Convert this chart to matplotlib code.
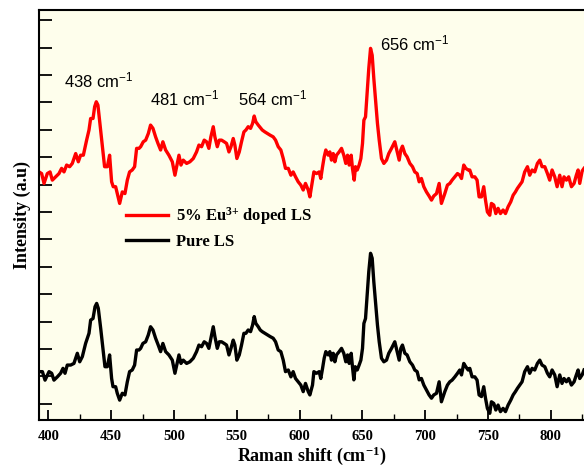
import numpy as np
import matplotlib
matplotlib.use("Agg")
from matplotlib import pyplot as plt
from matplotlib.ticker import MultipleLocator

# Raman shift (cm^-1) and intensity (a.u.)
pure_x = [392.6, 395.3, 397.4, 400.6, 402.7, 404.5, 407.2, 409.8, 411.7, 413.3,
          415.1, 417.8, 420.4, 423.1, 425.0, 427.1, 429.7, 432.4, 433.7, 435.6,
          437.2, 438.5, 439.8, 441.7, 443.5, 445.1, 447.0, 448.8, 450.4, 451.5,
          453.6, 454.9, 456.8, 458.9, 461.0, 462.9, 464.7, 466.8, 468.7, 470.3,
          472.2, 473.5, 475.3, 477.5, 479.6, 481.4, 483.3, 485.4, 487.5, 489.4,
          491.2, 493.4, 496.0, 498.7, 500.8, 504.0, 505.6, 507.4, 510.1, 512.7,
          515.4, 518.0, 519.9, 522.0, 524.1, 526.0, 527.8, 529.4, 531.3, 532.6,
          534.5, 536.1, 537.9, 540.0, 541.9, 543.8, 545.4, 547.2, 548.5, 550.1,
          552.0, 553.8, 555.7, 557.3, 559.1, 561.0, 562.6, 563.9, 565.2, 567.1,
          568.7, 570.3, 572.4, 574.5, 576.6, 579.0, 580.9, 583.0, 585.1, 587.0,
          588.8, 591.0, 593.1, 594.9, 596.8, 598.9, 601.0, 602.9, 604.7, 606.9,
          608.2, 610.3, 611.4, 613.5, 615.6, 616.9, 618.3, 619.6, 620.9, 622.8,
          624.1, 625.4, 626.8, 628.1, 629.4, 631.5, 633.4, 635.2, 636.8, 638.2,
          639.5, 641.1, 642.1, 643.2, 644.3, 645.9, 647.4, 648.8, 650.1, 651.2,
          652.5, 653.8, 655.1, 656.5, 657.8, 659.1, 660.4, 662.0, 663.4, 665.2,
          667.1, 669.2, 671.0, 673.2, 675.8, 677.7, 679.3, 680.6, 681.9, 683.8,
          685.6, 687.8, 689.9, 691.7, 693.6, 695.2, 697.0, 698.9, 701.0, 703.1,
          705.0, 706.8, 709.0, 711.1, 712.9, 715.6, 717.7, 719.6, 721.4, 723.6,
          725.7, 727.5, 728.9, 730.7, 732.3, 734.2, 735.5, 737.3, 739.5, 741.3,
          742.9, 744.8, 746.6, 748.0, 749.5, 751.4, 752.7, 754.6, 756.2, 758.0,
          759.9, 762.0, 763.9, 766.0, 768.1, 770.0, 771.8, 773.4, 775.3, 777.1,
          779.2, 781.4, 783.2, 785.1, 787.2, 789.3, 791.2, 793.0, 795.2, 797.3,
          799.1, 801.0, 803.1, 805.0, 807.1, 808.9, 810.5, 812.4, 814.2, 816.4,
          818.5, 820.3, 821.7, 823.0, 824.9, 826.4]
pure_y = [1.17, 1.17, 0.86, 1.17, 1.11, 0.86, 0.98, 1.11, 1.29, 1.11,
          1.41, 1.41, 1.47, 1.84, 1.53, 1.72, 2.20, 2.57, 3.05, 3.11,
          3.54, 3.66, 3.48, 2.75, 2.02, 1.35, 1.35, 1.78, 0.92, 0.62,
          0.62, 0.38, 0.13, 0.38, 0.32, 0.80, 1.17, 1.23, 1.41, 1.96,
          1.96, 2.02, 2.20, 2.26, 2.51, 2.81, 2.69, 2.39, 2.14, 1.90,
          2.20, 1.90, 1.78, 1.59, 1.11, 1.78, 1.47, 1.59, 1.47, 1.53,
          1.66, 1.90, 2.14, 2.08, 2.26, 2.20, 2.02, 2.39, 2.81, 2.45,
          2.02, 2.26, 2.26, 2.20, 2.14, 1.78, 2.02, 2.32, 2.14, 1.59,
          1.78, 2.14, 2.57, 2.57, 2.69, 2.63, 2.87, 3.18, 2.93, 2.81,
          2.69, 2.63, 2.57, 2.51, 2.45, 2.39, 2.26, 1.96, 1.90, 1.59,
          1.17, 1.23, 0.98, 1.17, 0.92, 0.80, 0.68, 0.44, 0.74, 0.44,
          0.32, 0.68, 1.17, 1.11, 1.17, 0.92, 1.29, 1.66, 1.90, 1.78,
          1.90, 1.59, 1.84, 1.53, 1.78, 1.90, 2.02, 1.84, 1.53, 1.78,
          1.47, 1.84, 1.35, 0.87, 1.35, 1.23, 1.41, 1.59, 2.02, 2.93,
          3.11, 3.97, 4.82, 5.49, 5.31, 4.45, 3.72, 2.87, 2.26, 1.66,
          1.53, 1.59, 1.84, 2.02, 2.26, 1.90, 1.59, 2.02, 2.14, 1.84,
          1.78, 1.53, 1.41, 1.23, 1.17, 0.87, 0.92, 0.68, 0.50, 0.32,
          0.20, 0.32, 0.38, 0.80, 0.07, 0.44, 0.68, 0.80, 0.86, 0.98,
          1.11, 1.23, 1.05, 1.47, 1.35, 1.23, 1.29, 0.98, 0.98, 0.86,
          0.32, 0.26, 0.62, 0.20, -0.17, -0.35, 0.07, 0.01, -0.23, -0.05,
          -0.29, -0.17, -0.29, -0.05, 0.13, 0.32, 0.44, 0.56, 0.68, 0.80,
          1.17, 1.35, 1.11, 1.29, 1.23, 1.47, 1.59, 1.41, 1.35, 1.11,
          0.98, 1.23, 1.05, 0.62, 1.05, 0.74, 0.92, 0.80, 0.92, 0.68,
          0.80, 1.05, 1.23, 0.92, 1.05, 1.23]

eu_x = [392.6, 394.7, 396.6, 399.2, 401.4, 403.2, 405.9, 408.5, 410.6, 412.5,
        414.6, 417.0, 419.1, 421.8, 423.9, 425.7, 427.9, 430.5, 432.4, 433.7,
        435.6, 436.9, 438.2, 439.5, 441.1, 443.0, 444.8, 447.0, 448.8, 450.4,
        451.7, 453.6, 454.9, 456.8, 458.9, 461.0, 462.9, 464.7, 466.8, 468.7,
        470.3, 472.2, 473.5, 475.6, 477.5, 479.6, 481.4, 483.3, 485.4, 487.3,
        489.4, 491.2, 493.4, 496.0, 498.7, 500.8, 504.0, 505.6, 507.4, 510.1,
        512.7, 515.4, 518.0, 519.9, 522.0, 524.1, 526.0, 527.8, 529.4, 531.3,
        532.6, 534.5, 536.1, 537.9, 540.0, 541.9, 543.8, 545.4, 547.2, 548.5,
        550.1, 552.0, 553.8, 555.7, 557.3, 559.1, 561.0, 562.6, 563.9, 565.2,
        567.1, 568.7, 570.3, 572.4, 574.5, 576.6, 579.0, 580.9, 583.0, 585.1,
        587.0, 588.8, 591.0, 593.1, 594.9, 596.8, 598.9, 601.0, 602.9, 604.7,
        606.9, 608.2, 610.3, 611.4, 613.5, 615.6, 616.9, 618.3, 619.6, 620.9,
        622.8, 624.1, 625.4, 626.8, 628.1, 629.4, 631.5, 633.4, 635.2, 636.8,
        638.2, 639.5, 641.1, 642.1, 643.5, 644.5, 645.9, 647.4, 648.8, 650.1,
        651.2, 652.5, 653.8, 655.1, 656.5, 657.8, 659.1, 660.4, 662.0, 663.4,
        665.2, 667.1, 669.2, 671.0, 673.2, 675.8, 677.7, 679.3, 680.6, 681.9,
        683.8, 685.6, 687.8, 689.9, 691.7, 693.6, 695.2, 697.0, 698.9, 701.0,
        703.1, 705.0, 706.8, 709.0, 711.1, 712.9, 715.6, 717.7, 719.6, 721.4,
        723.6, 725.7, 727.5, 728.9, 730.7, 732.3, 734.2, 735.5, 737.3, 739.5,
        741.3, 742.9, 744.8, 746.6, 748.0, 749.5, 751.4, 752.7, 754.6, 756.2,
        758.0, 759.9, 762.0, 763.9, 766.0, 768.1, 770.0, 771.8, 773.4, 775.3,
        777.1, 779.2, 781.4, 783.2, 785.1, 787.2, 789.3, 791.2, 793.0, 795.2,
        797.3, 799.1, 801.0, 803.1, 805.0, 807.1, 808.9, 810.5, 812.4, 814.2,
        816.4, 818.5, 820.3, 821.7, 823.0, 824.9, 826.4]
eu_y = [8.46, 8.40, 8.04, 8.40, 8.46, 8.16, 8.28, 8.40, 8.59, 8.46,
        8.71, 8.65, 8.77, 9.13, 8.83, 9.07, 9.07, 9.62, 9.99, 10.41,
        10.41, 10.84, 11.02, 10.90, 10.23, 9.44, 8.65, 8.65, 9.07, 8.10,
        7.92, 7.92, 7.67, 7.31, 7.73, 7.67, 8.16, 8.46, 8.53, 8.65,
        9.32, 9.32, 9.38, 9.56, 9.62, 9.86, 10.17, 10.05, 9.74, 9.50,
        9.26, 9.56, 9.26, 9.07, 8.83, 8.34, 9.07, 8.71, 8.89, 8.77,
        8.83, 8.95, 9.19, 9.44, 9.38, 9.62, 9.56, 9.32, 9.74, 10.11,
        9.74, 9.38, 9.62, 9.62, 9.56, 9.50, 9.19, 9.38, 9.68, 9.44,
        8.95, 9.19, 9.56, 9.92, 9.99, 10.11, 10.05, 10.23, 10.50, 10.29,
        10.17, 10.08, 9.99, 9.92, 9.86, 9.80, 9.74, 9.62, 9.38, 9.26,
        8.95, 8.59, 8.59, 8.34, 8.46, 8.28, 8.10, 7.98, 7.80, 8.04,
        7.80, 7.55, 8.16, 8.46, 8.40, 8.46, 8.22, 8.65, 9.01, 9.26,
        9.07, 9.19, 8.89, 9.13, 8.83, 9.07, 9.19, 9.32, 9.07, 8.77,
        9.07, 8.71, 9.07, 8.59, 8.16, 8.65, 8.53, 8.71, 8.95, 9.50,
        10.35, 10.47, 11.38, 12.24, 12.97, 12.72, 11.87, 11.14, 10.23, 9.62,
        8.95, 8.77, 8.89, 9.13, 9.32, 9.56, 9.19, 8.89, 9.26, 9.40,
        9.13, 9.01, 8.77, 8.65, 8.46, 8.40, 8.10, 8.22, 7.92, 7.73,
        7.58, 7.43, 7.58, 7.67, 8.04, 7.31, 7.67, 7.98, 8.04, 8.16,
        8.28, 8.40, 8.34, 8.22, 8.71, 8.59, 8.53, 8.53, 8.28, 8.28,
        8.16, 7.55, 7.55, 7.92, 7.43, 7.00, 6.88, 7.31, 7.25, 6.94,
        7.13, 6.94, 7.07, 6.94, 7.19, 7.37, 7.61, 7.73, 7.86, 7.98,
        8.10, 8.46, 8.65, 8.34, 8.53, 8.46, 8.77, 8.89, 8.65, 8.65,
        8.40, 8.16, 8.53, 8.28, 7.92, 8.34, 7.92, 8.28, 8.16, 8.28,
        7.92, 8.04, 8.34, 8.53, 8.04, 8.49, 8.59]

peak_labels = ["438 cm$\\mathregular{^{-1}}$", "481 cm$\\mathregular{^{-1}}$",
               "564 cm$\\mathregular{^{-1}}$", "656 cm$\\mathregular{^{-1}}$"]
peak_label_x = [412.5, 481.0, 551.0, 664.0]
peak_label_y = [11.56, 10.90, 10.90, 12.90]

fig = plt.figure(figsize=(5.84, 4.67), dpi=100)
fig.patch.set_facecolor("white")
ax = fig.add_axes([39 / 584, 1 - 420 / 467, 1 - 39 / 584, 410 / 467])
ax.set_facecolor("#fefeec")

ax.plot(eu_x, eu_y, color="#ff0000", lw=2.4,
        label="5% Eu$\\mathregular{^{3{+}}}$ doped LS")
ax.plot(pure_x, pure_y, color="black", lw=2.4, label="Pure LS")

for txt, tx, ty in zip(peak_labels, peak_label_x, peak_label_y):
    ax.text(tx, ty, txt, fontsize=12, family="Liberation Sans",
            ha="left", va="baseline")

ax.set_xlim(392.6, 826.4)
ax.set_ylim(-0.595, 14.37)
ax.xaxis.set_major_locator(MultipleLocator(50))
ax.xaxis.set_minor_locator(MultipleLocator(25))
ax.set_yticks(np.arange(0, 15, 1))
ax.tick_params(axis="x", which="major", direction="in", length=7, width=1.3,
               pad=7, labelsize=10.5)
ax.tick_params(axis="x", which="minor", direction="in", length=4, width=1.0)
ax.tick_params(axis="y", which="major", direction="in", length=9, width=1.3,
               labelleft=False)
for lab in ax.get_xticklabels():
    lab.set_fontfamily("Liberation Serif")
    lab.set_fontweight("bold")

for side in ["left", "bottom", "top"]:
    ax.spines[side].set_linewidth(1.5)
ax.spines["right"].set_visible(False)

ax.set_xlabel("Raman shift (cm$\\mathregular{^{-1}}$)", fontsize=13,
              fontweight="bold", family="Liberation Serif", labelpad=1)
ax.set_ylabel("Intensity (a.u)", fontsize=13, fontweight="bold",
              family="Liberation Serif", labelpad=6)

leg = ax.legend(loc="upper left", bbox_to_anchor=(0.1596, 0.525), frameon=False,
                prop={"family": "Liberation Serif", "weight": "bold", "size": 12},
                handlelength=2.5, handletextpad=0.5, labelspacing=0.45,
                borderpad=0, borderaxespad=0)

fig.savefig("out.png", dpi=100)
